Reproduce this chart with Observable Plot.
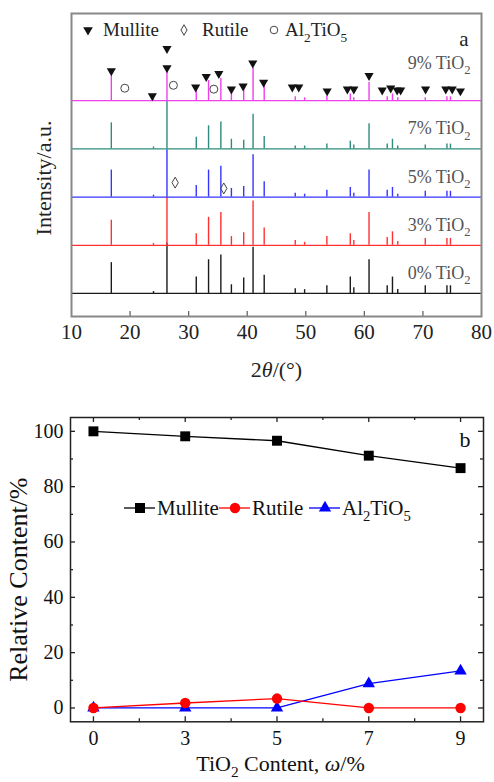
<!DOCTYPE html>
<html><head><meta charset="utf-8">
<script src="https://cdn.jsdelivr.net/npm/d3@7"></script>
<script src="https://cdn.jsdelivr.net/npm/@observablehq/plot@0.6"></script>
<style>
body{margin:0;background:#fff;width:494px;height:782px;overflow:hidden}
#chart svg{display:block}
#chart text, #chart tspan{font-family:'Liberation Serif','Times New Roman',serif !important}
</style></head><body><div id="chart"></div>
<script>
const FONT = "'Liberation Serif','Times New Roman',serif";

// ---------- Panel a : XRD patterns ----------
const twoTheta = [16.8, 24.0, 26.3, 31.3, 33.4, 35.5, 37.3, 39.4, 41.0, 42.9, 48.2, 49.8, 53.6, 57.6, 58.2, 60.8, 63.9, 64.8, 65.7, 70.4, 74.1, 74.7];
const sampleLabels = ["0% TiO_2", "3% TiO_2", "5% TiO_2", "7% TiO_2", "9% TiO_2"];
const sampleColors = ["#1a1a1a", "#ff3030", "#3535ff", "#2e8c7c", "#ee40ee"];
const int0 = [32, 2, 52, 17, 35, 40, 9, 16, 48, 19, 5, 4, 8, 17, 6, 35, 8, 17, 4, 8, 8, 8];
const int3 = [26, 2, 50, 12, 29, 34, 9, 13, 46, 18, 5, 3, 9, 12, 5, 34, 8, 14, 4, 7, 7, 7];
const int5 = [28, 2, 49, 12, 28, 32, 9, 11, 44, 16, 4, 3, 7, 10, 4, 28, 7, 10, 3, 6, 6, 6];
const int7 = [27, 2, 50, 12, 24, 28, 10, 9, 36, 13, 3, 3, 5, 8, 4, 26, 5, 10, 3, 4, 5, 5];
const int9 = [26, 1, 34, 12, 21, 23, 10, 11, 34, 16, 4, 3, 5, 7, 3, 19, 4, 7, 3, 3, 4, 4];
const intensities = [int0, int3, int5, int7, int9];
const xTicksA = [10, 20, 30, 40, 50, 60, 70, 80];
const mulliteAngle = [16.8, 23.8, 26.3, 26.3, 31.2, 33.0, 35.15, 37.3, 39.3, 40.95, 42.8, 47.7, 48.8, 53.65, 57.1, 58.2, 60.8, 63.05, 64.5, 65.6, 66.2, 70.45, 73.9, 75.0, 76.4];
const mulliteLevel = [231, 205, 234, 254, 214, 225, 228, 212, 215, 239, 219, 214, 214, 210, 212, 212, 226, 211, 213, 211, 211, 212, 212, 212, 210];
const rutileAngle = [27.7, 36.0];
const rutileLevel = [115, 109];
const altAngle = [19.1, 27.4, 34.3];
const altLevel = [213, 216, 212];
const SPACING = 50;

// ---------- Panel b : relative content ----------
const tio2Labels = ["0", "3", "5", "7", "9"];
const mullite = [100, 98.2, 96.6, 91.2, 86.7];
const rutile = [0, 1.8, 3.4, 0, 0];
const al2tio5 = [0, 0, 0, 8.8, 13.4];
const yTicksB = [0, 20, 40, 60, 80, 100];
const yMinorB = [10, 30, 50, 70, 90];

function richify(svg) {
  svg.querySelectorAll("text").forEach(t => {
    const s = t.textContent;
    if (!/[_*]/.test(s)) return;
    const fs = parseFloat(getComputedStyle(t).fontSize) || 16;
    const parts = [];
    let ital = false, buf = "";
    for (let i = 0; i < s.length; i++) {
      const c = s[i];
      if (c === "*") { if (buf) parts.push({text: buf, ital}); buf = ""; ital = !ital; }
      else if (c === "_") { if (buf) parts.push({text: buf, ital}); buf = ""; parts.push({text: s[++i], sub: true, ital}); }
      else buf += c;
    }
    if (buf) parts.push({text: buf, ital});
    const shift = fs * 0.3;
    let cur = 0;
    t.textContent = "";
    for (const p of parts) {
      const ts = document.createElementNS("http://www.w3.org/2000/svg", "tspan");
      const target = p.sub ? shift : 0;
      if (target !== cur) ts.setAttribute("dy", target - cur);
      cur = target;
      if (p.sub) ts.setAttribute("font-size", fs * 0.7);
      if (p.ital) ts.setAttribute("font-style", "italic");
      ts.textContent = p.text;
      t.appendChild(ts);
    }
  });
}

// Panel a marks
const marksA = [];
sampleLabels.forEach((s, i) => {
  const base = i * SPACING;
  marksA.push(Plot.ruleY([base], {stroke: sampleColors[i], strokeWidth: 1.3}));
  const peaks = twoTheta.map((t, j) => ({t, y1: base, y2: base + intensities[i][j]}));
  marksA.push(Plot.ruleX(peaks, {x: "t", y1: "y1", y2: "y2", stroke: sampleColors[i], strokeWidth: 1.4}));
});
marksA.push(
  Plot.text(sampleLabels.map((s, i) => ({s, y: i * SPACING + (i === 4 ? 39 : 21)})),
    {y: "y", text: "s", frameAnchor: "right", textAnchor: "end", dx: -11, fontSize: 18, fill: "#555"}),
  Plot.dot(mulliteAngle.map((a, i) => ({a, l: mulliteLevel[i]})),
    {x: "a", y: "l", symbol: "triangle", r: 3.4, fill: "#111", stroke: "none", rotate: 180}),
  Plot.dot(rutileAngle.map((a, i) => ({a, l: rutileLevel[i]})),
    {x: "a", y: "l", symbol: "diamond", r: 3.3, fill: "none", stroke: "#444", strokeWidth: 1}),
  Plot.dot(altAngle.map((a, i) => ({a, l: altLevel[i]})),
    {x: "a", y: "l", symbol: "circle", r: 4, fill: "none", stroke: "#444", strokeWidth: 1}),
  Plot.ruleX(xTicksA.slice(1, -1), {x: d => d, stroke: "#666", strokeWidth: 1.3, insetTop: 298}),
  Plot.frame({stroke: "#888", strokeWidth: 2}),
  Plot.text(["a"], {text: d => d, frameAnchor: "top-right", dx: -13, dy: 18, fontSize: 21, fill: "#222"}),
  Plot.text(["2*θ*/(°)"], {text: d => d, frameAnchor: "bottom", textAnchor: "middle", dy: 60, fontSize: 22, fill: "#222"}),
  Plot.text(["Intensity/a.u."], {text: d => d, frameAnchor: "left", textAnchor: "middle", rotate: -90, dx: -28, dy: 13, fontSize: 22, fill: "#222"}),
  function legendA() {
    const g = d3.create("svg:g").attr("font-size", 19).attr("text-anchor", "start").attr("fill", "#222");
    const y = 30;
    g.append("path").attr("d", d3.symbol(d3.symbolTriangle, 40)()).attr("transform", `translate(88,${y}) rotate(180)`).attr("fill", "#111");
    g.append("text").attr("x", 103).attr("y", y).attr("dy", "0.32em").text("Mullite");
    g.append("path").attr("d", d3.symbol(d3.symbolDiamond, 32)()).attr("transform", `translate(184,${y})`).attr("fill", "none").attr("stroke", "#444");
    g.append("text").attr("x", 202).attr("y", y).attr("dy", "0.32em").text("Rutile");
    g.append("circle").attr("cx", 274).attr("cy", y).attr("r", 3.8).attr("fill", "none").attr("stroke", "#444");
    g.append("text").attr("x", 285).attr("y", y).attr("dy", "0.32em").text("Al_2TiO_5");
    return g.node();
  }
);

const plotA = Plot.plot({
  width: 494, height: 395,
  marginLeft: 71, marginRight: 13, marginTop: 13, marginBottom: 79,
  x: {domain: [10, 80], ticks: xTicksA, tickSize: 0, tickPadding: 8, label: null},
  y: {domain: [-23.9, 290.5], axis: null},
  style: {fontFamily: FONT, fontSize: "21px", color: "#222", background: "#fff", overflow: "visible"},
  marks: marksA
});

// Panel b marks
const idx = tio2Labels.map((d, i) => i);
const rows = idx.map(i => ({i, m: mullite[i], r: rutile[i], a: al2tio5[i]}));
const FH = 304.3, FW = 413;
const minorX = [0.5, 1.5, 2.5, 3.5];
const plotB = Plot.plot({
  width: 494, height: 387,
  marginLeft: 70, marginRight: 11, marginTop: 22, marginBottom: 60.7,
  x: {domain: [-0.25, 4.25], ticks: idx, tickFormat: i => tio2Labels[i], tickSize: 0, tickPadding: 9, label: null},
  y: {domain: [-5, 105], ticks: yTicksB, tickSize: 0, tickPadding: 7, label: null},
  style: {fontFamily: FONT, fontSize: "20px", color: "#111", background: "#fff", overflow: "visible"},
  marks: [
    Plot.frame({stroke: "#222", strokeWidth: 1.5}),
    Plot.ruleX(idx, {x: d => d, stroke: "#222", strokeWidth: 1.3, insetTop: FH - 5}),
    Plot.ruleX(minorX, {x: d => d, stroke: "#222", strokeWidth: 1.3, insetTop: FH - 3}),
    Plot.ruleX(idx, {x: d => d, stroke: "#222", strokeWidth: 1.3, insetBottom: FH - 5}),
    Plot.ruleX(minorX, {x: d => d, stroke: "#222", strokeWidth: 1.3, insetBottom: FH - 3}),
    Plot.ruleY(yTicksB, {y: d => d, stroke: "#222", strokeWidth: 1.3, insetRight: FW - 5}),
    Plot.ruleY(yMinorB, {y: d => d, stroke: "#222", strokeWidth: 1.3, insetRight: FW - 3}),
    Plot.ruleY(yTicksB, {y: d => d, stroke: "#222", strokeWidth: 1.3, insetLeft: FW - 5}),
    Plot.ruleY(yMinorB, {y: d => d, stroke: "#222", strokeWidth: 1.3, insetLeft: FW - 3}),
    Plot.line(rows, {x: "i", y: "m", stroke: "#000", strokeWidth: 1.3}),
    Plot.dot(rows, {x: "i", y: "m", symbol: "square", r: 5.6, fill: "#000"}),
    Plot.line(rows, {x: "i", y: "a", stroke: "#0000ff", strokeWidth: 1.3}),
    Plot.dot(rows, {x: "i", y: "a", symbol: "triangle", r: 4.6, fill: "#0000ff"}),
    Plot.line(rows, {x: "i", y: "r", stroke: "#ff0000", strokeWidth: 1.3}),
    Plot.dot(rows, {x: "i", y: "r", symbol: "circle", r: 5.2, fill: "#ff0000"}),
    Plot.text(["b"], {text: d => d, frameAnchor: "top-right", dx: -13, dy: 14, fontSize: 22, fill: "#111"}),
    Plot.text(["TiO_2 Content, *ω*/%"], {text: d => d, frameAnchor: "bottom", textAnchor: "middle", dx: 3.5, dy: 49, fontSize: 22, fill: "#111"}),
    Plot.text(["Relative Content/%"], {text: d => d, frameAnchor: "left", textAnchor: "middle", rotate: -90, dx: -52, dy: 10, fontSize: 26, fill: "#111"}),
    function legendB() {
      const g = d3.create("svg:g").attr("font-size", 21).attr("text-anchor", "start").attr("fill", "#111");
      const y = 113;
      const items = [
        {x0: 124, text: "Mullite", color: "#000", sym: d3.symbolSquare, size: 100},
        {x0: 219, text: "Rutile", color: "#ff0000", sym: d3.symbolCircle, size: 85},
        {x0: 309, text: "Al_2TiO_5", color: "#0000ff", sym: d3.symbolTriangle, size: 66}
      ];
      for (const it of items) {
        g.append("line").attr("x1", it.x0).attr("x2", it.x0 + 31).attr("y1", y).attr("y2", y).attr("stroke", it.color).attr("stroke-width", 1.3);
        g.append("path").attr("d", d3.symbol(it.sym, it.size)()).attr("transform", `translate(${it.x0 + 16},${y})`).attr("fill", it.color);
        g.append("text").attr("x", it.x0 + 33).attr("y", y).attr("dy", "0.32em").text(it.text);
      }
      return g.node();
    }
  ]
});

const chart = document.getElementById("chart");
chart.append(plotA, plotB);
richify(plotA);
richify(plotB);
</script></body></html>
